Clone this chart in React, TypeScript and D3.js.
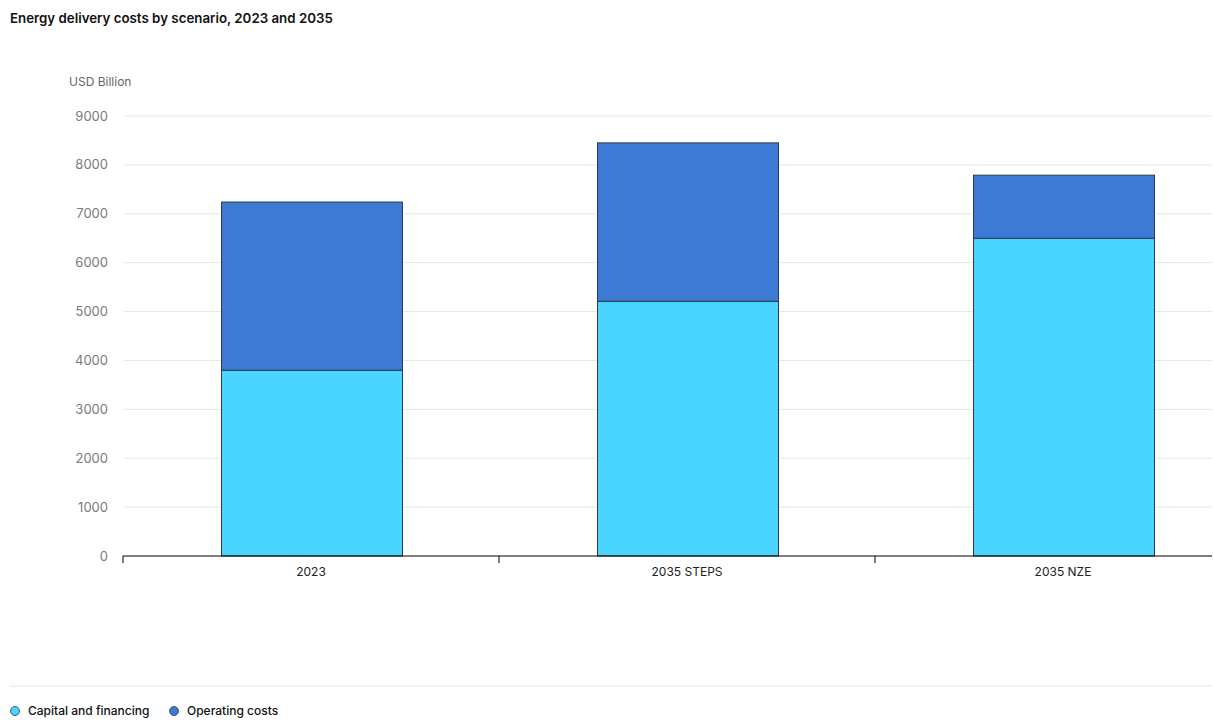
import React from "react";
import * as d3 from "d3";

const categories = ["2023", "2035 STEPS", "2035 NZE"];
const capitalFinancing = [3800, 5210, 6500];
const operatingCosts = [3440, 3240, 1290];
const yTicks = [0, 1000, 2000, 3000, 4000, 5000, 6000, 7000, 8000, 9000];
const seriesNames = ["Capital and financing", "Operating costs"];
const seriesColors = ["#48D4FF", "#3D7AD4"];

const W = 1214;
const H = 725;
const left = 123;
const right = 1212;
const top = 116;
const bottom = 556;
const font = "Inter, 'Open Sans', sans-serif";

export default function App() {
  const band = d3.scaleBand<string>().domain(categories).range([left, left + 376 * 3]);
  const y = d3.scaleLinear().domain([0, 9000]).range([bottom, top]);
  const stackData = categories.map((c, i) => ({ cat: c, cap: capitalFinancing[i], op: operatingCosts[i] }));
  const stack = d3.stack<any>().keys(["cap", "op"])(stackData);
  const bw = 181;
  return (
    <svg width={W} height={H} style={{ position: "absolute", left: 0, top: 0, display: "block" }} fontFamily={font}>
      <text x={10} y={23} fontSize={13.3} fontWeight={600} fill="#111">Energy delivery costs by scenario, 2023 and 2035</text>
      <text x={69} y={86} fontSize={12} fill="#666">USD Billion</text>
      {yTicks.map((t) => (
        <g key={t}>
          {t > 0 && <line x1={left + 1} x2={right} y1={y(t)} y2={y(t)} stroke="#e6e6e6" strokeWidth={1} />}
          <text x={108} y={y(t)} dy="0.35em" textAnchor="end" fontSize={13} fill="#7a7a7a">{t}</text>
        </g>
      ))}
      {stack.map((s, si) =>
        s.map((d, i) => {
          const c = categories[i];
          const cx = (band(c) as number) + band.bandwidth() / 2 + 1;
          return (
            <rect key={si + "-" + i} x={cx - bw / 2} y={y(d[1])} width={bw} height={y(d[0]) - y(d[1])}
              fill={seriesColors[si]} stroke="#2c3a4c" strokeWidth={1} />
          );
        })
      )}
      <line x1={left} x2={right} y1={bottom} y2={bottom} stroke="#000" strokeWidth={1} />
      {categories.map((c, i) => {
        const b = band(c) as number;
        return (
          <g key={c}>
            <line x1={b} x2={b} y1={bottom} y2={bottom + 7} stroke="#000" strokeWidth={1} />
            <text x={b + band.bandwidth() / 2} y={576} textAnchor="middle" fontSize={12} fill="#222">{c}</text>
          </g>
        );
      })}
      <line x1={10} x2={1212} y1={686} y2={686} stroke="#e6e6e6" />
      {seriesNames.map((n, i) => {
        const lx = i === 0 ? 15 : 174;
        return (
          <g key={n}>
            <circle cx={lx} cy={711} r={4.5} fill={seriesColors[i]} stroke="#2c3a4c" strokeWidth={0.8} />
            <text x={lx + 13} y={715} fontSize={12} fontWeight={500} fill="#111">{n}</text>
          </g>
        );
      })}
    </svg>
  );
}
